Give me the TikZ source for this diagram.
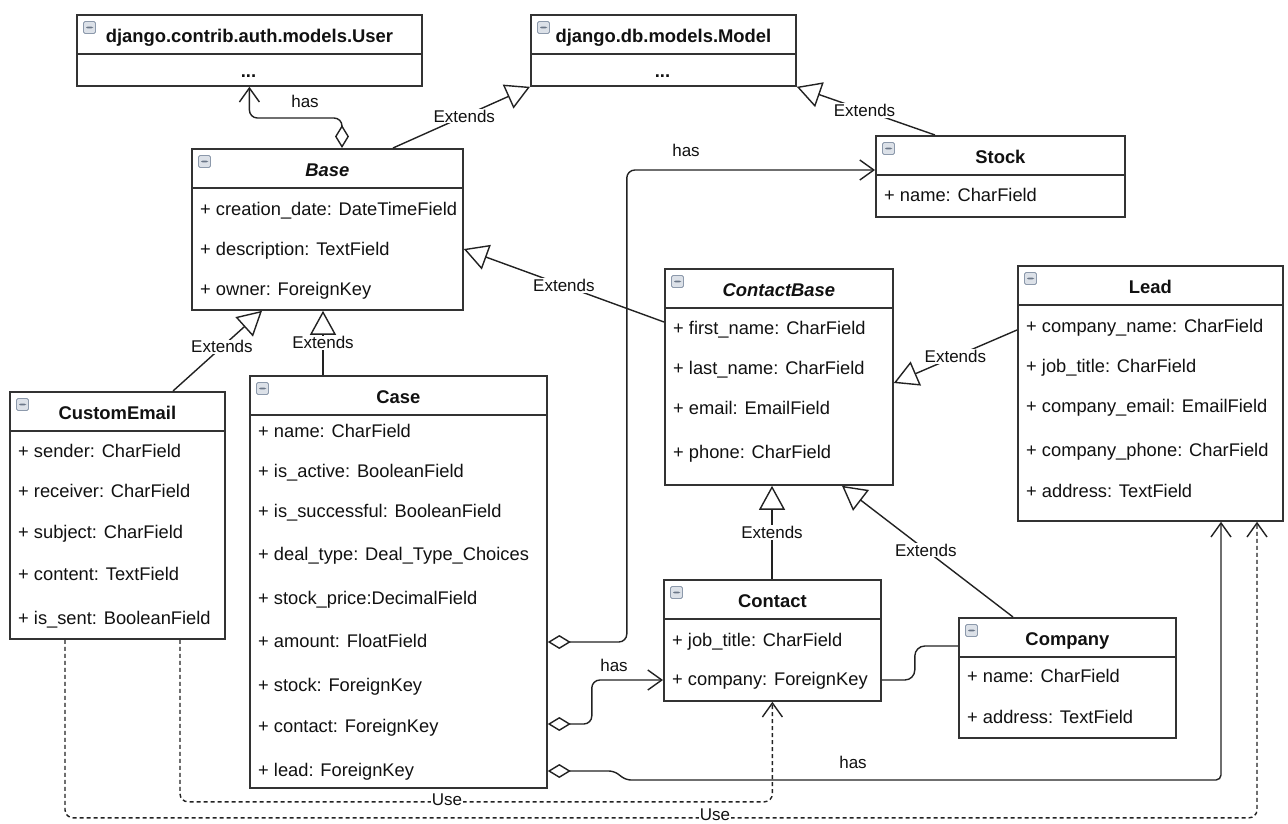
\documentclass[tikz,border=0pt]{standalone}
\usepackage{fontspec}
\setmainfont{Liberation Sans}
\usetikzlibrary{arrows.meta}
\definecolor{boxc}{HTML}{333333}
\definecolor{linec}{HTML}{222222}
\definecolor{txt}{HTML}{111111}
\definecolor{iconb}{HTML}{8C99AB}
\definecolor{iconf}{HTML}{DCE1E8}
\definecolor{iconm}{HTML}{6B7788}
\newcommand\umlbox[6]{%
  \node[cls, minimum width=#4pt, minimum height=#5pt] (#1) at (#2,#3) {};
  \draw[sepline] ([yshift=-40pt]#1.north west) -- ([yshift=-40pt]#1.north east);
  \node[icon] (#1-icon) at ([xshift=13.5pt,yshift=-13.5pt]#1.north west) {};
  \node[ttl] (#1-title) at ([yshift=-28pt]#1.north) {#6};
}
\tikzset{
  cls/.style={draw=boxc, line width=1.8pt, fill=white, inner sep=0pt, anchor=north west},
  sepline/.style={draw=boxc, line width=1.8pt},
  ttl/.style={font=\fontsize{18.4}{21}\selectfont\bfseries, text=txt, inner sep=0pt, anchor=base},
  fld/.style={font=\fontsize{18.3}{21}\selectfont, text=txt, inner sep=0pt, anchor=base west},
  lbl/.style={font=\fontsize{17}{19}\selectfont, text=txt, fill=white, inner sep=1pt},
  lbln/.style={font=\fontsize{17}{19}\selectfont, text=txt, inner sep=1pt},
  icon/.style={draw=iconb, fill=iconf, line width=0.8pt, minimum size=12pt, inner sep=0pt, rounded corners=1.5pt,
    path picture={\fill[iconm] ([xshift=2.5pt,yshift=-0.9pt]path picture bounding box.west) rectangle ([xshift=-2.5pt,yshift=0.9pt]path picture bounding box.east);}},
  conn/.style={draw=linec, line width=1.4pt},
  ext/.style={conn, -{Triangle[open, length=24pt, width=26pt]}},
  assoc/.style={conn, rounded corners=8pt, {Diamond[open, length=23pt, width=14pt]}-{Straight Barb[length=14pt, width=20pt]}},
  usedep/.style={conn, dash pattern=on 4pt off 3pt, rounded corners=8pt, -{Straight Barb[length=14pt, width=20pt]}},
}
\begin{document}
\begin{tikzpicture}[x=1pt,y=-1pt]
\useasboundingbox (0,0) rectangle (1288,823);
\fill[white] (0,0) rectangle (1288,823);

% classes
\umlbox{user}{76}{14}{345}{71}{django.contrib.auth.models.User}
\node[ttl] (user-dots) at (248.5,77) {...};
\umlbox{model}{530}{14}{265}{71}{django.db.models.Model}
\node[ttl] (model-dots) at (662.5,77) {...};

\umlbox{base}{191}{148}{271}{161}{\textit{Base}}
\node[fld] (base-f1) at (200,215) {+ creation\_date: DateTimeField};
\node[fld] (base-f2) at (200,255) {+ description: TextField};
\node[fld] (base-f3) at (200,295) {+ owner: ForeignKey};

\umlbox{stock}{875}{135}{249}{81}{Stock}
\node[fld] (stock-f1) at (884,201) {+ name: CharField};

\umlbox{cb}{664}{268}{228}{216}{\textit{ContactBase}}
\node[fld] (cb-f1) at (673,334) {+ first\_name: CharField};
\node[fld] (cb-f2) at (673,374) {+ last\_name: CharField};
\node[fld] (cb-f3) at (673,414) {+ email: EmailField};
\node[fld] (cb-f4) at (673,458) {+ phone: CharField};

\umlbox{lead}{1017}{265}{265}{255}{Lead}
\node[fld] (lead-f1) at (1026,332) {+ company\_name: CharField};
\node[fld] (lead-f2) at (1026,372) {+ job\_title: CharField};
\node[fld] (lead-f3) at (1026,412) {+ company\_email: EmailField};
\node[fld] (lead-f4) at (1026,456) {+ company\_phone: CharField};
\node[fld] (lead-f5) at (1026,497) {+ address: TextField};

\umlbox{ce}{9}{391}{215}{247}{CustomEmail}
\node[fld] (ce-f1) at (18,457) {+ sender: CharField};
\node[fld] (ce-f2) at (18,497) {+ receiver: CharField};
\node[fld] (ce-f3) at (18,538) {+ subject: CharField};
\node[fld] (ce-f4) at (18,580) {+ content: TextField};
\node[fld] (ce-f5) at (18,624) {+ is\_sent: BooleanField};

\umlbox{case}{249}{375}{297}{412}{Case}
\node[fld] (case-f1) at (258,437) {+ name: CharField};
\node[fld] (case-f2) at (258,477) {+ is\_active: BooleanField};
\node[fld] (case-f3) at (258,517) {+ is\_successful: BooleanField};
\node[fld] (case-f4) at (258,560) {+ deal\_type: Deal\_Type\_Choices};
\node[fld] (case-f5) at (258,604) {+ stock\_price:DecimalField};
\node[fld] (case-f6) at (258,647) {+ amount: FloatField};
\node[fld] (case-f7) at (258,691) {+ stock: ForeignKey};
\node[fld] (case-f8) at (258,732) {+ contact: ForeignKey};
\node[fld] (case-f9) at (258,776) {+ lead: ForeignKey};

\umlbox{contact}{663}{579}{217}{121}{Contact}
\node[fld] (contact-f1) at (672,646) {+ job\_title: CharField};
\node[fld] (contact-f2) at (672,685) {+ company: ForeignKey};

\umlbox{company}{958}{617}{217}{120}{Company}
\node[fld] (company-f1) at (967,682) {+ name: CharField};
\node[fld] (company-f2) at (967,723) {+ address: TextField};

% associations
\draw[assoc] ([xshift=151pt]base.north west) -- ++(0,-30) -| (user.south);
\node[lbln] (has1) at (305,101) {has};

\draw[assoc] ([yshift=-267pt]case.north east) -- ++(79,0) |- ([yshift=-35pt]stock.north west);
\node[lbln] (has2) at (686,150) {has};

\draw[assoc] ([yshift=-349pt]case.north east) -- ++(44,0) |- ([yshift=-101pt]contact.north west);
\node[lbln] (has3) at (614,665) {has};

\coordinate (j1) at (614,771);
\coordinate (j2) at (626,780);
\draw[assoc, rounded corners=5pt] ([yshift=-396pt]case.north east) -- (j1) -- (j2) -| ([xshift=204pt]lead.south west);
\node[lbln] (has4) at (853,762) {has};

\draw[conn, rounded corners=10pt] ([yshift=-101pt]contact.north east) -- ++(33,0) |- ([yshift=-29pt]company.north west);

% generalisations
\draw[ext] ([xshift=202pt]base.north west) -- node[lbl, pos=0.52] (e1) {Extends} (model.south west);
\draw[ext] ([xshift=60pt]stock.north west) -- node[lbl, pos=0.51] (e2) {Extends} (model.south east);
\draw[ext] ([yshift=-54pt]cb.north west) -- node[lbl, pos=0.5] (e3) {Extends} ([yshift=-101pt]base.north east);
\draw[ext] ([yshift=-65pt]lead.north west) -- node[lbl, pos=0.5] (e4) {Extends} ([yshift=-115pt]cb.north east);
\draw[ext] ([xshift=164pt]ce.north west) -- node[lbl, pos=0.55] (e5) {Extends} ([xshift=71pt]base.south west);
\draw[ext] ([xshift=74pt]case.north west) -- node[lbl, pos=0.5] (e6) {Extends} ([xshift=132pt]base.south west);
\draw[ext] ([xshift=109pt]contact.north west) -- node[lbl, pos=0.5] (e7) {Extends} ([xshift=108pt]cb.south west);
\draw[ext] ([xshift=55pt]company.north west) -- node[lbl, pos=0.51] (e8) {Extends} ([xshift=178pt]cb.south west);

% dependencies
\draw[usedep] ([xshift=171pt]ce.south west) -- ++(0,162) -| (contact.south);
\node[lbl] (use1) at (447,800) {Use};
\draw[usedep] ([xshift=56pt]ce.south west) -- ++(0,178) -| ([xshift=240pt]lead.south west);
\node[lbl] (use2) at (715,815) {Use};
\end{tikzpicture}
\end{document}
